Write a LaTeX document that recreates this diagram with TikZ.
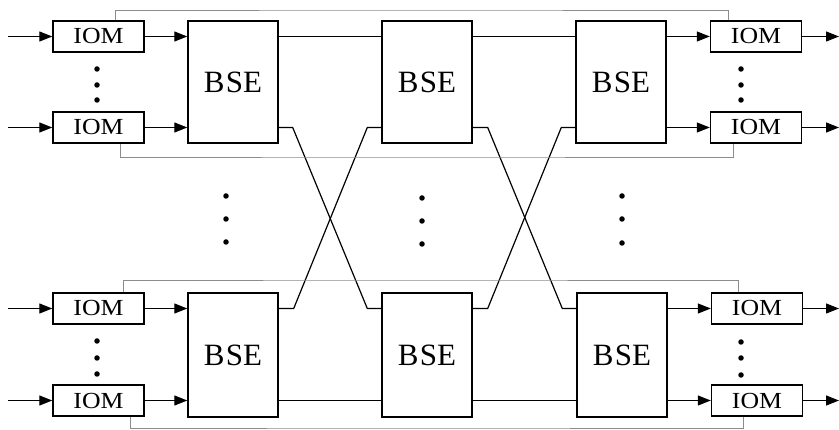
\documentclass[tikz,border=0pt]{standalone}
\usepackage{fontspec}
\setmainfont{Liberation Serif}
\usetikzlibrary{arrows.meta,calc}
\begin{document}
\begin{tikzpicture}[x=1pt,y=-1pt,
  iom/.style={draw,line width=1.4pt,minimum width=91pt,minimum height=31pt,inner sep=0pt,
    font=\fontsize{23}{23}\selectfont},
  bse/.style={draw,line width=1.4pt,minimum width=90pt,minimum height=122pt,inner sep=0pt,
    font=\fontsize{31}{31}\selectfont},
  wire/.style={line width=1.2pt},
  arr/.style={wire,-{Triangle[length=13pt,width=10pt]}},
  fb/.style={line width=0.9pt,draw=black!45},
  dot/.style={circle,fill=black,inner sep=0pt,minimum size=5.5pt}]
\useasboundingbox (0,0) rectangle (839,430);

% input/output modules
\node[iom] (i1) at (98.5,36.5) {\scalebox{1.12}[1]{IOM}};
\node[iom] (i2) at (98.5,127.5) {\scalebox{1.12}[1]{IOM}};
\node[iom] (i3) at (98.5,308.5) {\scalebox{1.12}[1]{IOM}};
\node[iom] (i4) at (98.5,400.5) {\scalebox{1.12}[1]{IOM}};
\node[iom] (o1) at (756,36.5) {\scalebox{1.12}[1]{IOM}};
\node[iom] (o2) at (756,127.5) {\scalebox{1.12}[1]{IOM}};
\node[iom] (o3) at (757,308.5) {\scalebox{1.12}[1]{IOM}};
\node[iom] (o4) at (757,400.5) {\scalebox{1.12}[1]{IOM}};

% switching elements
\node[bse] (b1) at (233,82) {B\kern1.5pt SE};
\node[bse] (b2) at (427,82) {B\kern1.5pt SE};
\node[bse] (b3) at (621,82) {B\kern1.5pt SE};
\node[bse,minimum height=124pt] (b4) at (233,355) {B\kern1.5pt SE};
\node[bse,minimum height=124pt] (b5) at (427,355) {B\kern1.5pt SE};
\node[bse,minimum height=124pt] (b6) at (622,355) {B\kern1.5pt SE};

% free ends of the external links
\coordinate (x1) at (8,36.5);
\coordinate (x2) at (8,127.5);
\coordinate (x3) at (8,308.5);
\coordinate (x4) at (8,400.5);
\coordinate (y1) at (839,36.5);
\coordinate (y2) at (839,127.5);
\coordinate (y3) at (839,308.5);
\coordinate (y4) at (839,400.5);

% inputs
\foreach \s/\t in {x1/i1,x2/i2,x3/i3,x4/i4}
  \draw[arr] (\s) -- (\t.west);
% modules to first stage
\draw[arr] (i1.east) -- (i1.east -| b1.west);
\draw[arr] (i2.east) -- (i2.east -| b1.west);
\draw[arr] (i3.east) -- (i3.east -| b4.west);
\draw[arr] (i4.east) -- (i4.east -| b4.west);
% last stage to modules
\draw[arr] (o1.west -| b3.east) -- (o1.west);
\draw[arr] (o2.west -| b3.east) -- (o2.west);
\draw[arr] (o3.west -| b6.east) -- (o3.west);
\draw[arr] (o4.west -| b6.east) -- (o4.west);
% outputs
\foreach \s/\t in {o1/y1,o2/y2,o3/y3,o4/y4}
  \draw[arr] (\s.east) -- (\t);

% straight links between stages
\draw[wire] (i1 -| b1.east) -- (i1 -| b2.west);
\draw[wire] (i1 -| b2.east) -- (i1 -| b3.west);
\draw[wire] (i4 -| b4.east) -- (i4 -| b5.west);
\draw[wire] (i4 -| b5.east) -- (i4 -| b6.west);

% crossed links between stages
\draw[wire] (i2 -| b1.east) -- ++(14,0) -- ($(i3 -| b5.west)+(-14,0)$) -- (i3 -| b5.west);
\draw[wire] (i3 -| b4.east) -- ++(15,0) -- ($(i2 -| b2.west)+(-14,0)$) -- (i2 -| b2.west);
\draw[wire] (i2 -| b2.east) -- ++(15,0) -- ($(i3 -| b6.west)+(-14,0)$) -- (i3 -| b6.west);
\draw[wire] (i3 -| b5.east) -- ++(15,0) -- ($(i2 -| b3.west)+(-14,0)$) -- (i2 -| b3.west);

% feedback paths between output and input modules
\coordinate (f1) at (400,10);
\coordinate (f2) at (400,157);
\coordinate (f3) at (400,280);
\coordinate (f4) at (400,428);
\draw[fb] ([xshift=16.5pt]i1.north) |- (f1) -| ([xshift=-28pt]o1.north);
\draw[fb] ([xshift=21.5pt]i2.south) |- (f2) -| ([xshift=-23pt]o2.south);
\draw[fb] ([xshift=24.5pt]i3.north) |- (f3) -| ([xshift=-19pt]o3.north);
\draw[fb] ([xshift=31.5pt]i4.south) |- (f4) -| ([xshift=-14pt]o4.south);

% ellipsis dots
\foreach \x/\y in {97/69,97/85,97/100, 97/341,97/358,97/374,
                   741/69,741/85,741/100, 741/342,741/358,741/375,
                   226/196,226/219,226/242, 422/198,422/221,422/244,
                   622/196,622/219,622/243}
  \node[dot] at (\x,\y) {};
\end{tikzpicture}
\end{document}
